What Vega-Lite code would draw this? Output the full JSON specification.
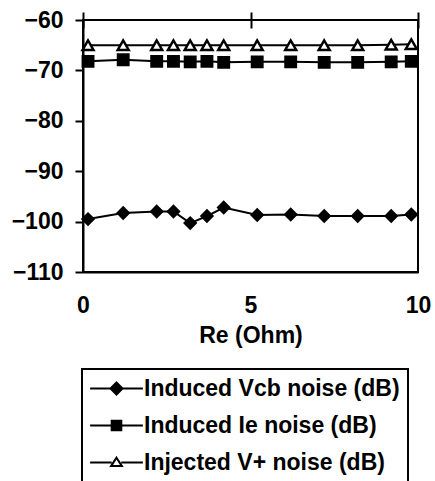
{
  "$schema": "https://vega.github.io/schema/vega-lite/v6.json",
  "width": 335,
  "height": 252,
  "autosize": {"type": "none"},
  "padding": {"left": 83, "top": 20, "right": 17, "bottom": 209},
  "background": "white",
  "config": {
    "view": {"stroke": "black", "strokeWidth": 2},
    "font": "Liberation Sans",
    "axis": {"labelFont": "Liberation Sans", "labelFontSize": 23, "labelFontWeight": "bold", "labelColor": "black", "titleFont": "Liberation Sans", "titleFontSize": 23, "titleFontWeight": "bold", "titleColor": "black", "domainColor": "black", "domainWidth": 2, "tickColor": "black", "tickWidth": 2, "grid": false},
    "legend": {"strokeWidth": 2}
  },
  "data": {"values": [
    {"series": "Induced Vcb noise (dB)", "Re": 0.15, "dB": -99.5},
    {"series": "Induced Vcb noise (dB)", "Re": 1.2, "dB": -98.3},
    {"series": "Induced Vcb noise (dB)", "Re": 2.2, "dB": -98.0},
    {"series": "Induced Vcb noise (dB)", "Re": 2.7, "dB": -98.0},
    {"series": "Induced Vcb noise (dB)", "Re": 3.2, "dB": -100.3},
    {"series": "Induced Vcb noise (dB)", "Re": 3.7, "dB": -98.9},
    {"series": "Induced Vcb noise (dB)", "Re": 4.2, "dB": -97.2},
    {"series": "Induced Vcb noise (dB)", "Re": 5.2, "dB": -98.7},
    {"series": "Induced Vcb noise (dB)", "Re": 6.2, "dB": -98.6},
    {"series": "Induced Vcb noise (dB)", "Re": 7.2, "dB": -98.9},
    {"series": "Induced Vcb noise (dB)", "Re": 8.2, "dB": -98.9},
    {"series": "Induced Vcb noise (dB)", "Re": 9.2, "dB": -98.9},
    {"series": "Induced Vcb noise (dB)", "Re": 9.8, "dB": -98.6},
    {"series": "Induced Ie noise (dB)", "Re": 0.15, "dB": -68.2},
    {"series": "Induced Ie noise (dB)", "Re": 1.2, "dB": -67.9},
    {"series": "Induced Ie noise (dB)", "Re": 2.2, "dB": -68.2},
    {"series": "Induced Ie noise (dB)", "Re": 2.7, "dB": -68.2},
    {"series": "Induced Ie noise (dB)", "Re": 3.2, "dB": -68.3},
    {"series": "Induced Ie noise (dB)", "Re": 3.7, "dB": -68.2},
    {"series": "Induced Ie noise (dB)", "Re": 4.2, "dB": -68.4},
    {"series": "Induced Ie noise (dB)", "Re": 5.2, "dB": -68.3},
    {"series": "Induced Ie noise (dB)", "Re": 6.2, "dB": -68.3},
    {"series": "Induced Ie noise (dB)", "Re": 7.2, "dB": -68.4},
    {"series": "Induced Ie noise (dB)", "Re": 8.2, "dB": -68.4},
    {"series": "Induced Ie noise (dB)", "Re": 9.2, "dB": -68.3},
    {"series": "Induced Ie noise (dB)", "Re": 9.8, "dB": -68.2},
    {"series": "Injected V+ noise (dB)", "Re": 0.15, "dB": -65.0},
    {"series": "Injected V+ noise (dB)", "Re": 1.2, "dB": -65.0},
    {"series": "Injected V+ noise (dB)", "Re": 2.2, "dB": -65.0},
    {"series": "Injected V+ noise (dB)", "Re": 2.7, "dB": -65.0},
    {"series": "Injected V+ noise (dB)", "Re": 3.2, "dB": -65.0},
    {"series": "Injected V+ noise (dB)", "Re": 3.7, "dB": -65.0},
    {"series": "Injected V+ noise (dB)", "Re": 4.2, "dB": -65.0},
    {"series": "Injected V+ noise (dB)", "Re": 5.2, "dB": -65.0},
    {"series": "Injected V+ noise (dB)", "Re": 6.2, "dB": -65.0},
    {"series": "Injected V+ noise (dB)", "Re": 7.2, "dB": -65.0},
    {"series": "Injected V+ noise (dB)", "Re": 8.2, "dB": -65.0},
    {"series": "Injected V+ noise (dB)", "Re": 9.2, "dB": -64.9},
    {"series": "Injected V+ noise (dB)", "Re": 9.8, "dB": -64.8}
  ]},
  "resolve": {"axis": {"x": "independent"}},
  "layer": [
    {
      "mark": {"type": "line", "stroke": "black", "strokeWidth": 2},
      "encoding": {
        "x": {"field": "Re", "type": "quantitative", "scale": {"domain": [0, 10], "nice": false},
              "axis": {"orient": "bottom", "values": [0, 5, 10], "ticks": false, "labelPadding": 22, "title": "Re (Ohm)", "titlePadding": 7, "labelFlush": false}},
        "y": {"field": "dB", "type": "quantitative", "scale": {"domain": [-110, -60], "nice": false, "zero": false},
              "axis": {"values": [-110, -100, -90, -80, -70, -60], "tickSize": 8, "labelPadding": 12, "title": null}},
        "detail": {"field": "series"}
      }
    },
    {
      "transform": [{"filter": "datum.series == 'Induced Vcb noise (dB)'"}],
      "mark": {"type": "point",
               "shape": {"expr": "datum.label == 'Induced Vcb noise (dB)' ? 'M-4.4,0H4.4M0,-1L1,0L0,1L-1,0Z' : datum.label == 'Induced Ie noise (dB)' ? 'M-4.4,0H4.4M-0.8,-0.8H0.8V0.8H-0.8Z' : datum.label == 'Injected V+ noise (dB)' ? 'M-4.4,0H-0.8M0.8,0H4.4M0,-0.8L0.9,0.6H-0.9Z' : 'diamond'"},
               "stroke": "black", "strokeWidth": 1.5, "opacity": 1, "size": 150},
      "encoding": {
        "x": {"field": "Re", "type": "quantitative",
              "axis": {"orient": "top", "values": [0, 5, 10], "labels": false, "domain": false, "tickSize": 16, "offset": -8, "title": null}},
        "y": {"field": "dB", "type": "quantitative"},
        "fill": {"field": "series", "type": "nominal",
                 "scale": {"domain": ["Induced Vcb noise (dB)", "Induced Ie noise (dB)", "Injected V+ noise (dB)"], "range": ["black", "black", "white"]},
                 "legend": {
                    "title": null, "orient": "none", "legendX": -1, "legendY": 349,
                    "labelFont": "Liberation Sans", "labelFontSize": 23, "labelFontWeight": "bold", "labelColor": "black",
                    "symbolSize": 144, "symbolStrokeWidth": 2, "symbolStrokeColor": "black",
                    "rowPadding": 13, "labelOffset": 16, "symbolOffset": 15, "padding": 8,
                    "strokeColor": "black",
                    "labelLimit": 400,
                    "encode": {
                      "symbols": {
                        "stroke": {"value": "black"},
                        "strokeWidth": {"value": 2},
                        "size": {"value": 144}
                      }
                    }
                 }}
      }
    },
    {
      "transform": [{"filter": "datum.series == 'Induced Ie noise (dB)'"}],
      "mark": {"type": "point", "shape": "square", "stroke": "black", "strokeWidth": 1.5, "opacity": 1, "size": 130},
      "encoding": {
        "x": {"field": "Re", "type": "quantitative", "axis": null},
        "y": {"field": "dB", "type": "quantitative"},
        "fill": {"field": "series", "type": "nominal"}
      }
    },
    {
      "transform": [{"filter": "datum.series == 'Injected V+ noise (dB)'"}],
      "mark": {"type": "point", "shape": "triangle-up", "stroke": "black", "strokeWidth": 2.5, "opacity": 1, "size": 120},
      "encoding": {
        "x": {"field": "Re", "type": "quantitative", "axis": null},
        "y": {"field": "dB", "type": "quantitative"},
        "fill": {"field": "series", "type": "nominal"}
      }
    }
  ]
}
